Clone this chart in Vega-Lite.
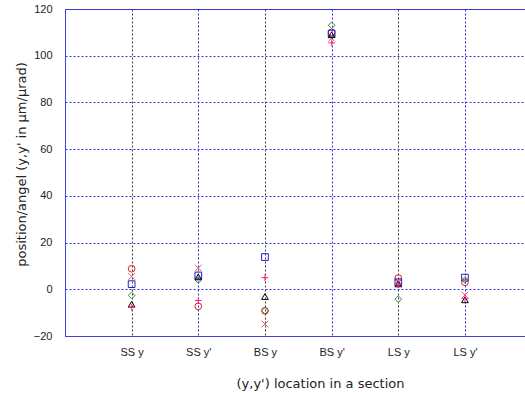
{
  "$schema": "https://vega.github.io/schema/vega-lite/v6.json",
  "width": 460,
  "height": 327,
  "autosize": {"type": "none"},
  "padding": {"left": 65, "top": 9, "right": 0, "bottom": 57},
  "background": "white",
  "config": {
    "view": {"stroke": "#4040e0", "strokeWidth": 1},
    "font": "Liberation Sans"
  },
  "data": {
    "values": [
      {"series": "s1", "loc": "SS y", "value": 8.8},
      {"series": "s1", "loc": "SS y'", "value": -7.3},
      {"series": "s1", "loc": "BS y", "value": -9.2},
      {"series": "s1", "loc": "BS y'", "value": 110},
      {"series": "s1", "loc": "LS y", "value": 4.8},
      {"series": "s1", "loc": "LS y'", "value": 3},
      {"series": "s2", "loc": "SS y", "value": 5.5},
      {"series": "s2", "loc": "SS y'", "value": 9.1},
      {"series": "s2", "loc": "BS y", "value": -14.9},
      {"series": "s2", "loc": "BS y'", "value": 107.5},
      {"series": "s2", "loc": "LS y", "value": 3.5},
      {"series": "s2", "loc": "LS y'", "value": -2.5},
      {"series": "s3", "loc": "SS y", "value": 2.2},
      {"series": "s3", "loc": "SS y'", "value": 5.9},
      {"series": "s3", "loc": "BS y", "value": 13.8},
      {"series": "s3", "loc": "BS y'", "value": 109.5},
      {"series": "s3", "loc": "LS y", "value": 3},
      {"series": "s3", "loc": "LS y'", "value": 5},
      {"series": "s4", "loc": "SS y", "value": -2.6},
      {"series": "s4", "loc": "SS y'", "value": 4.0},
      {"series": "s4", "loc": "BS y", "value": -9.2},
      {"series": "s4", "loc": "BS y'", "value": 113},
      {"series": "s4", "loc": "LS y", "value": -4.2},
      {"series": "s4", "loc": "LS y'", "value": 4},
      {"series": "s5", "loc": "SS y", "value": -6.4},
      {"series": "s5", "loc": "SS y'", "value": 5.3},
      {"series": "s5", "loc": "BS y", "value": -3.1},
      {"series": "s5", "loc": "BS y'", "value": 109},
      {"series": "s5", "loc": "LS y", "value": 2.3},
      {"series": "s5", "loc": "LS y'", "value": -4.5},
      {"series": "s6", "loc": "SS y", "value": -7.7},
      {"series": "s6", "loc": "SS y'", "value": -4.8},
      {"series": "s6", "loc": "BS y", "value": 5.0},
      {"series": "s6", "loc": "BS y'", "value": 105.5},
      {"series": "s6", "loc": "LS y", "value": 2.0},
      {"series": "s6", "loc": "LS y'", "value": -4}
    ]
  },
  "mark": {"type": "point", "filled": false, "size": 45, "strokeWidth": 1, "opacity": 1},
  "encoding": {
    "x": {
      "field": "loc",
      "type": "ordinal",
      "sort": ["SS y", "SS y'", "BS y", "BS y'", "LS y", "LS y'"],
      "scale": {"type": "point", "padding": 0.95, "align": 0.526},
      "axis": {
        "title": "(y,y') location in a section",
        "titleFont": "DejaVu Sans",
        "titleFontSize": 13,
        "titleFontWeight": "normal",
        "titleColor": "#222",
        "titleX": 255,
        "titleY": 47,
        "titleAlign": "center",
        "titleBaseline": "middle",
        "labelAngle": 0,
        "labelFontSize": 11,
        "labelColor": "#222",
        "labelPadding": 10,
        "ticks": false,
        "domainColor": "#4040e0",
        "grid": true,
        "gridDash": [2, 2],
        "gridColor": {"condition": {"test": "indexof(datum.value, \"'\") >= 0", "value": "#3030e0"}, "value": "#404040"}
      }
    },
    "y": {
      "field": "value",
      "type": "quantitative",
      "scale": {"domain": [-20, 120], "nice": false, "zero": false},
      "axis": {
        "title": "position/angel (y,y' in μm/μrad)",
        "titleFont": "DejaVu Sans",
        "titleFontSize": 13,
        "titleFontWeight": "normal",
        "titleColor": "#222",
        "titleX": -44,
        "titleY": 155,
        "titleAlign": "center",
        "titleBaseline": "middle",
        "values": [-20, 0, 20, 40, 60, 80, 100, 120],
        "labelFontSize": 11,
        "labelColor": "#222",
        "labelPadding": 13,
        "ticks": false,
        "domainColor": "#4040e0",
        "grid": true,
        "gridDash": [2, 2],
        "gridColor": "#3030e0"
      }
    },
    "shape": {
      "field": "series",
      "type": "nominal",
      "scale": {
        "domain": ["s1", "s2", "s3", "s4", "s5", "s6"],
        "range": ["circle", "M-1,-1L1,1M-1,1L1,-1", "square", "diamond", "triangle-up", "M-1,0L1,0M0,-1L0,1"]
      },
      "legend": null
    },
    "color": {
      "field": "series",
      "type": "nominal",
      "scale": {
        "domain": ["s1", "s2", "s3", "s4", "s5", "s6"],
        "range": ["#e02020", "#e06060", "#2020d0", "#3a8a3a", "#000000", "#ff2080"]
      },
      "legend": null
    }
  }
}
